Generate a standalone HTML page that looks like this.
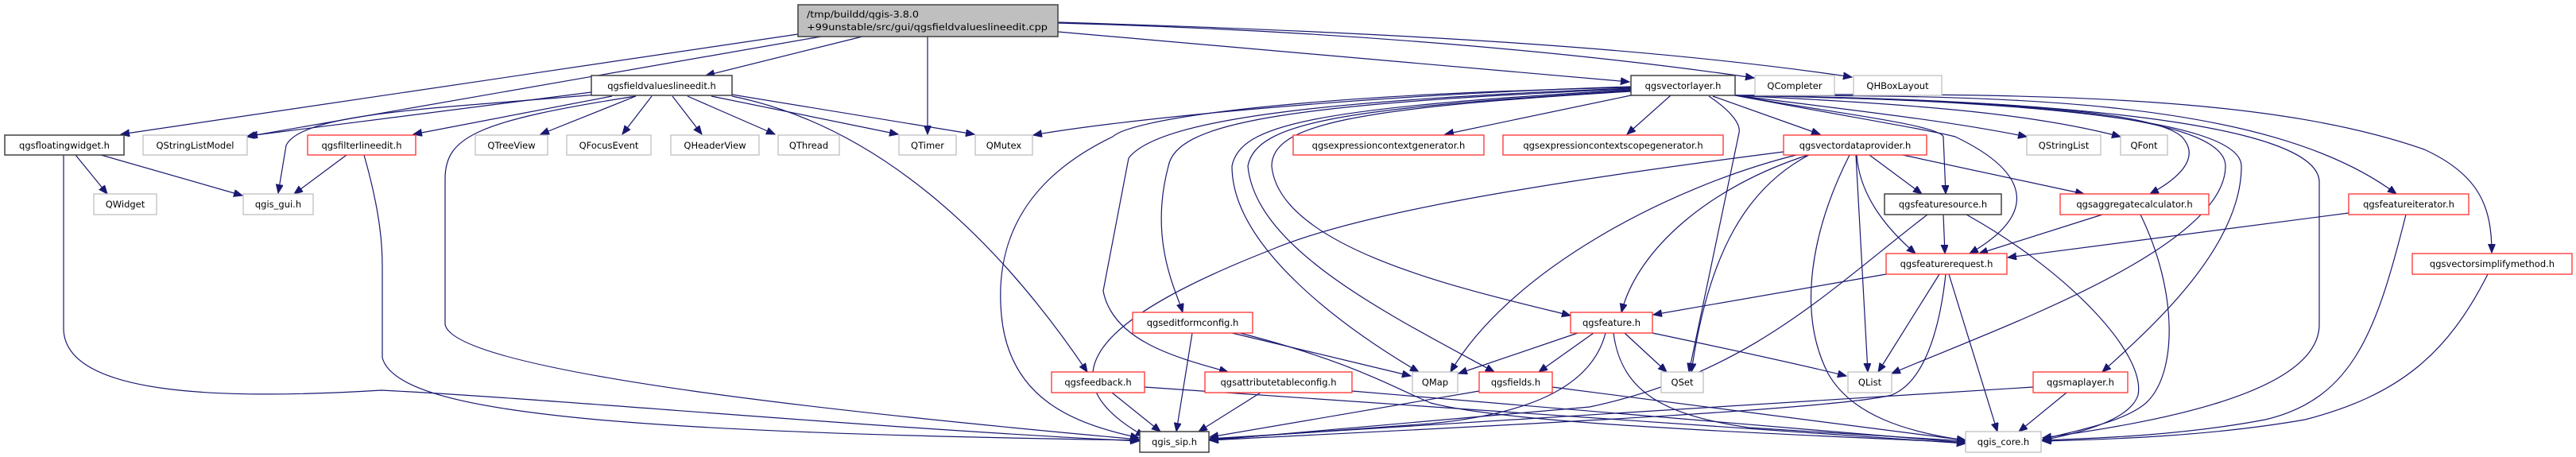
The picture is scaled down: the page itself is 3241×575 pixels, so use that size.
<!DOCTYPE html>
<html><head><meta charset="utf-8"><style>
html,body{margin:0;padding:0;background:#fff;}
svg{display:block;}
.e{fill:none;stroke:#191970;stroke-width:1.2;marker-end:url(#a);}
text{font-family:"DejaVu Sans","Liberation Sans",sans-serif;font-size:11.5px;fill:#000;}
.n{fill:#fff;stroke:#bfbfbf;stroke-width:1.3;}
.r{fill:#fff;stroke:#ff3030;stroke-width:1.3;}
.b{fill:#fff;stroke:#404040;stroke-width:1.5;}
</style></head><body>
<svg width="3241" height="575" viewBox="0 0 3241 575" xmlns="http://www.w3.org/2000/svg">
<defs><marker id="a" markerUnits="userSpaceOnUse" markerWidth="12" markerHeight="10" refX="11" refY="4.5" orient="auto"><path d="M0,0 L11,4.5 L0,9 z" fill="#191970" stroke="#191970"/></marker></defs>
<g>
<path class="e" d="M1004,43 L152,169"/>
<path class="e" d="M1033,46 L310,172"/>
<path class="e" d="M1085,46 L888,95"/>
<path class="e" d="M1167,46 L1167,169"/>
<path class="e" d="M1331,40 L2050,103"/>
<path class="e" d="M1331,29 C1700,39 2000,68 2207,98"/>
<path class="e" d="M1331,28 C1800,42 2100,63 2330,97"/>
<path class="e" d="M744,116 L313,171"/>
<path class="e" d="M750,119 C560,136 380,141 360,183 L350,243"/>
<path class="e" d="M770,121 L520,169"/>
<path class="e" d="M800,121 C600,152 560,172 560,225 L560,408 C570,470 1100,523 1433,553"/>
<path class="e" d="M800,121 L680,169"/>
<path class="e" d="M820,121 L783,169"/>
<path class="e" d="M846,121 L883,169"/>
<path class="e" d="M865,121 L975,169"/>
<path class="e" d="M895,121 L1130,169"/>
<path class="e" d="M921,119 L1226,169"/>
<path class="e" d="M921,121 C1100,157 1250,293 1368,468"/>
<path class="e" d="M95,195 L135,244"/>
<path class="e" d="M127,195 L305,246"/>
<path class="e" d="M80,195 L80,413 C80,502 300,502 480,491 C700,502 1100,539 1433,555"/>
<path class="e" d="M436,195 L370,244"/>
<path class="e" d="M458,195 C480,272 481,314 481,335 L481,450 C500,523 800,544 1433,554"/>
<path class="e" d="M2052,109 C1700,120 1400,152 1300,170"/>
<path class="e" d="M2052,110 C1600,120 1420,152 1400,172 C1300,220 1250,293 1260,397 C1270,502 1350,533 1433,551"/>
<path class="e" d="M2052,111 C1700,125 1460,146 1420,199 L1388,366 C1400,429 1480,450 1545,468"/>
<path class="e" d="M2052,112 C1600,131 1480,157 1470,209 C1445,303 1480,366 1488,393"/>
<path class="e" d="M2052,113 C1650,136 1560,157 1550,209 C1550,314 1700,418 1785,468"/>
<path class="e" d="M2052,114 C1700,136 1580,152 1570,209 C1580,314 1750,397 1880,468"/>
<path class="e" d="M2052,115 C1700,136 1600,157 1600,209 C1610,314 1850,366 1976,397"/>
<path class="e" d="M2052,120 L1818,169"/>
<path class="e" d="M2102,120 L2047,169"/>
<path class="e" d="M2150,121 C2180,141 2190,157 2188,167 L2125,468"/>
<path class="e" d="M2155,121 L2290,169"/>
<path class="e" d="M2183,120 C2350,141 2450,152 2550,172"/>
<path class="e" d="M2183,120 C2400,131 2550,141 2668,172"/>
<path class="e" d="M2183,120 C2300,141 2440,157 2445,172 L2448,244"/>
<path class="e" d="M2183,120 C2320,146 2420,162 2460,172 C2560,220 2560,272 2478,319"/>
<path class="e" d="M2183,120 C2400,125 2700,131 2745,172 C2770,199 2740,225 2705,244"/>
<path class="e" d="M2183,120 C2500,125 2800,141 2800,209 C2800,314 2500,418 2380,470"/>
<path class="e" d="M2183,120 C2500,125 2820,146 2820,209 C2820,314 2700,418 2645,468"/>
<path class="e" d="M2183,120 C2600,125 2920,157 2918,230 L2918,408 C2918,497 2700,533 2570,551"/>
<path class="e" d="M2183,120 C2500,120 2850,120 3015,244"/>
<path class="e" d="M2183,120 C2600,115 2870,125 3050,188 C3120,220 3135,261 3135,318"/>
<path class="e" d="M2275,195 C2150,235 2060,314 2040,393"/>
<path class="e" d="M2260,195 C2100,235 1900,340 1825,468"/>
<path class="e" d="M2244,191 C1900,235 1700,272 1600,314 C1400,392 1300,470 1440,549"/>
<path class="e" d="M2276,195 C2200,235 2150,314 2128,468"/>
<path class="e" d="M2352,195 L2418,244"/>
<path class="e" d="M2336,195 C2340,251 2380,293 2410,319"/>
<path class="e" d="M2394,195 L2622,244"/>
<path class="e" d="M2335,195 L2350,468"/>
<path class="e" d="M2327,195 C2280,288 2260,392 2300,470 C2330,523 2400,544 2473,554"/>
<path class="e" d="M2445,270 L2447,319"/>
<path class="e" d="M2425,270 C2300,366 2200,470 2000,512 L1522,554"/>
<path class="e" d="M2474,270 C2600,340 2700,444 2690,497 C2680,528 2620,544 2570,554"/>
<path class="e" d="M2645,270 L2490,319"/>
<path class="e" d="M2693,270 C2740,366 2740,470 2700,507 C2670,533 2600,544 2570,553"/>
<path class="e" d="M2955,268 L2526,324"/>
<path class="e" d="M3027,270 C2990,418 2960,502 2850,528 C2750,547 2650,551 2570,554"/>
<path class="e" d="M3130,345 C3080,444 3020,497 2900,528 C2780,549 2650,553 2570,555"/>
<path class="e" d="M2373,345 L2080,396"/>
<path class="e" d="M2440,345 L2363,468"/>
<path class="e" d="M2448,345 C2440,418 2420,481 2380,497 C2300,518 1700,544 1522,554"/>
<path class="e" d="M2452,345 L2513,543"/>
<path class="e" d="M1985,419 L1835,470"/>
<path class="e" d="M2005,419 L1936,468"/>
<path class="e" d="M2044,419 L2097,468"/>
<path class="e" d="M2079,419 C2150,434 2250,455 2323,473"/>
<path class="e" d="M2020,419 C2000,497 1900,523 1800,533 L1522,553"/>
<path class="e" d="M2030,419 C2040,497 2100,523 2200,538 L2473,555"/>
<path class="e" d="M1550,419 L1775,473"/>
<path class="e" d="M1500,419 L1480,543"/>
<path class="e" d="M1560,419 C1700,455 1750,486 1800,507 C1900,533 2200,544 2473,557"/>
<path class="e" d="M1586,494 L1508,543"/>
<path class="e" d="M1701,492 L2473,557"/>
<path class="e" d="M1399,494 L1460,543"/>
<path class="e" d="M1440,487 L2473,558"/>
<path class="e" d="M1861,492 L1522,550"/>
<path class="e" d="M1953,487 L2473,554"/>
<path class="e" d="M2558,487 L1522,552"/>
<path class="e" d="M2600,494 L2540,543"/>
</g>
<!-- main -->
<rect x="1004" y="6" width="327" height="40" fill="#bfbfbf" stroke="#404040" stroke-width="1.5"/>
<text x="1015" y="22" textLength="141" lengthAdjust="spacingAndGlyphs">/tmp/buildd/qgis-3.8.0</text>
<text x="1015" y="38" textLength="303" lengthAdjust="spacingAndGlyphs">+99unstable/src/gui/qgsfieldvalueslineedit.cpp</text>
<g text-anchor="middle">
<!-- row2 -->
<rect class="b" x="744" y="95" width="177" height="25"/><text x="832.5" y="112">qgsfieldvalueslineedit.h</text>
<rect class="b" x="2052" y="95" width="131" height="25"/><text x="2117.5" y="112">qgsvectorlayer.h</text>
<rect class="n" x="2208" y="95" width="100" height="25"/><text x="2258" y="112">QCompleter</text>
<rect class="n" x="2332" y="95" width="111" height="25"/><text x="2387.5" y="112">QHBoxLayout</text>
<!-- row3 -->
<rect class="b" x="6" y="170" width="150" height="25"/><text x="81" y="187">qgsfloatingwidget.h</text>
<rect class="n" x="180" y="170" width="131" height="25"/><text x="245.5" y="187">QStringListModel</text>
<rect class="r" x="387" y="170" width="136" height="25"/><text x="455" y="187">qgsfilterlineedit.h</text>
<rect class="n" x="598" y="170" width="91" height="25"/><text x="643.5" y="187">QTreeView</text>
<rect class="n" x="713" y="170" width="106" height="25"/><text x="766" y="187">QFocusEvent</text>
<rect class="n" x="844" y="170" width="111" height="25"/><text x="899.5" y="187">QHeaderView</text>
<rect class="n" x="979" y="170" width="77" height="25"/><text x="1017.5" y="187">QThread</text>
<rect class="n" x="1131" y="170" width="72" height="25"/><text x="1167" y="187">QTimer</text>
<rect class="n" x="1227" y="170" width="72" height="25"/><text x="1263" y="187">QMutex</text>
<rect class="r" x="1627" y="170" width="240" height="25"/><text x="1747" y="187">qgsexpressioncontextgenerator.h</text>
<rect class="r" x="1891" y="170" width="277" height="25"/><text x="2029.5" y="187">qgsexpressioncontextscopegenerator.h</text>
<rect class="r" x="2244" y="170" width="180" height="25"/><text x="2334" y="187">qgsvectordataprovider.h</text>
<rect class="n" x="2550" y="170" width="93" height="25"/><text x="2596.5" y="187">QStringList</text>
<rect class="n" x="2668" y="170" width="59" height="25"/><text x="2697.5" y="187">QFont</text>
<!-- row4 -->
<rect class="n" x="118" y="244" width="79" height="26"/><text x="157.5" y="261">QWidget</text>
<rect class="n" x="306" y="244" width="88" height="26"/><text x="350" y="261">qgis_gui.h</text>
<rect class="b" x="2371" y="244" width="147" height="26"/><text x="2444.5" y="261">qgsfeaturesource.h</text>
<rect class="r" x="2592" y="244" width="187" height="26"/><text x="2685.5" y="261">qgsaggregatecalculator.h</text>
<rect class="r" x="2955" y="244" width="151" height="26"/><text x="3030.5" y="261">qgsfeatureiterator.h</text>
<!-- row5 -->
<rect class="r" x="2373" y="319" width="152" height="26"/><text x="2449" y="336">qgsfeaturerequest.h</text>
<rect class="r" x="3035" y="319" width="201" height="26"/><text x="3135.5" y="336">qgsvectorsimplifymethod.h</text>
<!-- row6 -->
<rect class="r" x="1425" y="393" width="151" height="26"/><text x="1500.5" y="410">qgseditformconfig.h</text>
<rect class="r" x="1976" y="393" width="103" height="26"/><text x="2027.5" y="410">qgsfeature.h</text>
<!-- row7 -->
<rect class="r" x="1323" y="468" width="117" height="26"/><text x="1381.5" y="485">qgsfeedback.h</text>
<rect class="r" x="1516" y="468" width="185" height="26"/><text x="1608.5" y="485">qgsattributetableconfig.h</text>
<rect class="n" x="1777" y="468" width="57" height="26"/><text x="1805.5" y="485">QMap</text>
<rect class="r" x="1861" y="468" width="92" height="26"/><text x="1907" y="485">qgsfields.h</text>
<rect class="n" x="2090" y="468" width="53" height="26"/><text x="2116.5" y="485">QSet</text>
<rect class="n" x="2325" y="468" width="55" height="26"/><text x="2352.5" y="485">QList</text>
<rect class="r" x="2558" y="468" width="119" height="26"/><text x="2617.5" y="485">qgsmaplayer.h</text>
<!-- row8 -->
<rect class="b" x="1434" y="543" width="87" height="26"/><text x="1477.5" y="560">qgis_sip.h</text>
<rect class="n" x="2473" y="543" width="95" height="26"/><text x="2520.5" y="560">qgis_core.h</text>
</g>
</svg>
</body></html>
